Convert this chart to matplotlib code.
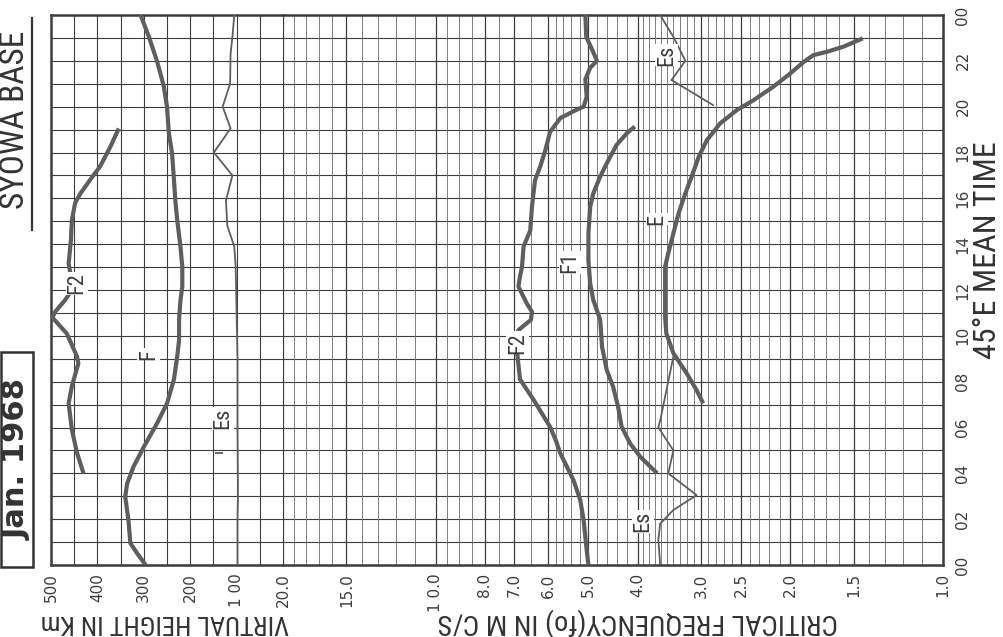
import numpy as np
import matplotlib
matplotlib.use("Agg")
import matplotlib.pyplot as plt
from matplotlib import font_manager
from matplotlib.ticker import NullLocator, NullFormatter
from matplotlib.patches import Rectangle
from matplotlib.lines import Line2D

W, H = 1004, 637

# time axis (45E mean time)
hour_ticks = list(range(0, 25, 2))
hour_labels = ["00", "02", "04", "06", "08", "10", "12", "14", "16", "18", "20", "22", "00"]

# virtual height axis (km) and frequency axis (Mc/s)
height_ticks = [500, 400, 300, 200, 100]
height_labels = ["500", "400", "300", "200", "1 00"]
freq_ticks = [20, 15, 10, 8, 7, 6, 5, 4, 3, 2.5, 2, 1.5, 1.0]
freq_labels = ["20.0", "15.0", "1 0.0", "8.0", "7.0", "6.0", "5.0", "4.0", "3.0", "2.5", "2.0", "1.5", "1.0"]

# ---- virtual heights ----
hF2_hour = [4.0, 4.9, 5.9, 7.05, 7.8, 8.8, 9.1, 10.1, 10.8, 11.05, 11.55, 12.0, 12.6, 13.15, 14.2, 15.05, 15.8, 16.2, 16.8, 17.4, 18.25, 19.05]
hF2_km = [430, 444, 455, 462, 455, 441, 444, 466, 497, 491, 470, 455, 457, 462, 457, 455, 448, 437, 416, 394, 372, 354]

hF_hour = [0, 0.5, 0.95, 1.95, 2.98, 3.55, 4.3, 5.15, 6.2, 7.05, 8.1, 9.1, 9.8, 10.7, 11.55, 12.15, 13.0, 13.9, 15.05, 15.9, 16.8, 17.95, 18.85, 20.0, 20.9, 21.95, 23.05, 24]
hF_km = [296, 314, 329, 333, 340, 336, 322, 300, 271, 250, 235, 228, 224, 224, 221, 217, 217, 221, 228, 232, 235, 239, 246, 250, 257, 271, 289, 307]

hEs_hour = [0, 2.0, 3.0, 6.0, 9.0, 11.0, 13.0, 13.9, 14.8, 15.9, 17.0, 18.0, 19.05, 20.0, 21.0, 22.3, 23.05, 24]
hEs_km = [98, 98, 97, 98, 98, 100, 102, 105, 120, 123, 109, 149, 113, 130, 114, 113, 109, 105]

hEs_dot_hour = [4.9]
hEs_dot_km = [139]

# ---- critical frequencies ----
foF2_hour = [0, 0.65, 1.96, 2.84, 3.7, 4.87, 5.45, 6.03, 7.2, 8.1, 9.4, 10.25, 10.7, 11.05, 11.4, 12.15, 12.6, 13.0, 13.9, 14.6, 15.65, 16.8, 17.4, 18.1, 18.9, 19.5, 19.8, 20.0, 20.43, 21.2, 21.7, 22.0, 22.5, 23.05, 24]
foF2_mc = [5.0, 5.04, 5.11, 5.19, 5.35, 5.68, 5.8, 5.95, 6.41, 6.82, 6.92, 6.87, 6.49, 6.46, 6.61, 6.87, 6.82, 6.76, 6.71, 6.51, 6.46, 6.37, 6.22, 6.08, 5.95, 5.68, 5.35, 5.11, 5.04, 5.07, 4.96, 4.81, 4.92, 5.05, 5.07]

foF1_hour = [4.0, 4.72, 5.31, 6.03, 6.9, 7.78, 8.5, 9.52, 10.7, 11.56, 12.29, 13.3, 14.47, 15.63, 16.22, 16.95, 17.53, 18.33, 18.84, 19.13]
foF1_mc = [3.66, 3.95, 4.14, 4.30, 4.37, 4.47, 4.6, 4.70, 4.74, 4.89, 4.96, 5.0, 5.0, 4.96, 4.89, 4.74, 4.60, 4.40, 4.20, 4.05]

foE_hour = [7.05, 7.63, 8.36, 9.24, 10.1, 10.83, 13.02, 13.6, 14.47, 15.35, 16.22, 16.94, 17.82, 18.54, 19.27, 19.85, 20.29, 20.87, 21.45, 21.96, 22.25, 22.4, 22.62, 22.98]
foE_mc = [2.97, 3.06, 3.2, 3.40, 3.51, 3.53, 3.53, 3.48, 3.40, 3.32, 3.22, 3.13, 3.03, 2.92, 2.75, 2.55, 2.36, 2.16, 2.0, 1.88, 1.80, 1.69, 1.57, 1.44]

foEs_hour = [0, 1.1, 1.8, 2.4, 3.05, 4.0, 5.0, 6.0, 6.3, 9.1]
foEs_mc = [3.61, 3.64, 3.61, 3.40, 3.06, 3.48, 3.40, 3.64, 3.61, 3.40]

foEs2_hour = [20.07, 20.58, 21.16, 22.0, 23.05, 23.5, 24]
foEs2_mc = [2.84, 3.1, 3.43, 3.22, 3.4, 3.5, 3.61]

INK = "#3c3c3c"
CURVE = "#5e5e5e"

# pick a narrow face if one is installed
names = {f.name for f in font_manager.fontManager.ttflist}
NARROW = [n for n in ["Liberation Sans Narrow", "Roboto Condensed", "Open Sans Condensed"] if n in names] + ["DejaVu Sans"]


def fx(px):
    return px / W


def fy(py):
    return 1 - py / H


fig = plt.figure(figsize=(W / 100, H / 100), dpi=100)
fig.patch.set_facecolor("white")

left, right, top, bottom, split = 51, 943, 15, 565, 283
ax_h = fig.add_axes([fx(left), fy(bottom), fx(split - left), (bottom - top) / H])
ax_f = fig.add_axes([fx(split), fy(bottom), fx(right - split), (bottom - top) / H])

ax_h.set_xlim(500, 0)
ax_f.set_xscale("log")
ax_f.set_xlim(20, 1.0)
for ax in (ax_h, ax_f):
    ax.set_ylim(0, 24)
    ax.xaxis.set_minor_locator(NullLocator())
    ax.xaxis.set_minor_formatter(NullFormatter())
    ax.yaxis.set_minor_locator(NullLocator())
    for s in ax.spines.values():
        s.set_linewidth(1.8)
        s.set_color(INK)
ax_h.spines["right"].set_visible(False)
ax_f.spines["left"].set_visible(False)

# grid: hour lines, 50 km lines, log frequency lines
for ax in (ax_h, ax_f):
    ax.hlines(np.arange(1, 24), *ax.get_xlim(), color=INK, lw=0.8, zorder=1)
ax_h.vlines(np.arange(50, 500, 50), 0, 24, color=INK, lw=0.8, zorder=1)
fgrid = np.concatenate([np.arange(1.1, 4.0, 0.1), np.arange(4.0, 6.0, 0.2),
                        np.arange(6.0, 10.0, 0.5), np.arange(10, 21, 1.0)])
minor_f = [f for f in fgrid if not any(abs(f - t) < 1e-6 for t in freq_ticks)]
ax_f.vlines(minor_f, 0, 24, color="#6a6a6a", lw=0.6, zorder=1)
ax_f.vlines(freq_ticks[:-1], 0, 24, color=INK, lw=0.9, zorder=1)

# curves
thick = dict(color=CURVE, lw=3.0, solid_capstyle="butt", solid_joinstyle="round", zorder=3)
thin = dict(color=CURVE, lw=1.3, zorder=3)
ax_h.plot(hF2_km, hF2_hour, **thick)
ax_h.plot(hF_km, hF_hour, **thick)
ax_h.plot(hEs_km, hEs_hour, **thin)
ax_h.plot(hEs_dot_km, hEs_dot_hour, marker="_", ms=6, mew=1.3, color=CURVE, ls="none", zorder=3)
ax_f.plot(foF2_mc, foF2_hour, **thick)
ax_f.plot(foF1_mc, foF1_hour, **thick)
ax_f.plot(foE_mc, foE_hour, **thick)
ax_f.plot(foEs_mc, foEs_hour, **thin)
ax_f.plot(foEs2_mc, foEs2_hour, **thin)

# curve labels
lab = dict(rotation=90, ha="center", va="center", fontsize=16, color=INK, family=NARROW,
           fontstretch="condensed",
           bbox=dict(facecolor="white", edgecolor="none", pad=0.5), zorder=4)
ax_h.text(444, 12.3, "F2", **lab)
ax_h.text(290, 9.2, "F", **lab)
ax_h.text(130, 6.4, "Es", **lab)
ax_f.text(6.9, 9.7, "F2", **lab)
ax_f.text(5.43, 13.2, "F1", **lab)
ax_f.text(3.66, 15.1, "E", **lab)
ax_f.text(3.51, 22.25, "Es", **lab)
ax_f.text(3.9, 1.9, "Es", **lab)

# ticks
ax_h.set_yticks([])
ax_h.set_xticks(height_ticks, height_labels, rotation=90, fontsize=11, color=INK)
ax_h.tick_params(axis="x", length=0, pad=6)
ax_f.set_xticks(freq_ticks, freq_labels, rotation=90, fontsize=11, color=INK)
ax_f.tick_params(axis="x", length=0, pad=6)
ax_f.yaxis.tick_right()
ax_f.set_yticks(hour_ticks, hour_labels, rotation=90, fontsize=11, color=INK, va="center")
ax_f.tick_params(axis="y", length=0, pad=9)

# titles and axis names
txt = dict(ha="center", va="center", color="#333333", family=NARROW, fontstretch="condensed")
fig.text(fx(15), fy(120), "SYOWA BASE", rotation=90, fontsize=24, **txt)
fig.add_artist(Line2D([fx(32), fx(32)], [fy(18), fy(230)], color="#333333", lw=1.6))
fig.add_artist(Rectangle((fx(1), fy(567)), fx(32), (567 - 352) / H, fill=False,
                         edgecolor="#333333", lw=1.8))
fig.text(fx(17), fy(460), "Jan. 1968", rotation=90, fontsize=22, fontweight="bold",
         ha="center", va="center", color="#333333")
fig.text(fx(165), fy(622), "VIRTUAL HEIGHT IN Km", rotation=180, fontsize=19, **txt)
fig.text(fx(638), fy(622), "CRITICAL FREQUENCY(fo) IN M C/S", rotation=180, fontsize=20.5, **txt)
fig.text(fx(988), fy(250), "45°E MEAN TIME", rotation=90, fontsize=23, **txt)

fig.savefig("out.png", dpi=100, facecolor="white")
